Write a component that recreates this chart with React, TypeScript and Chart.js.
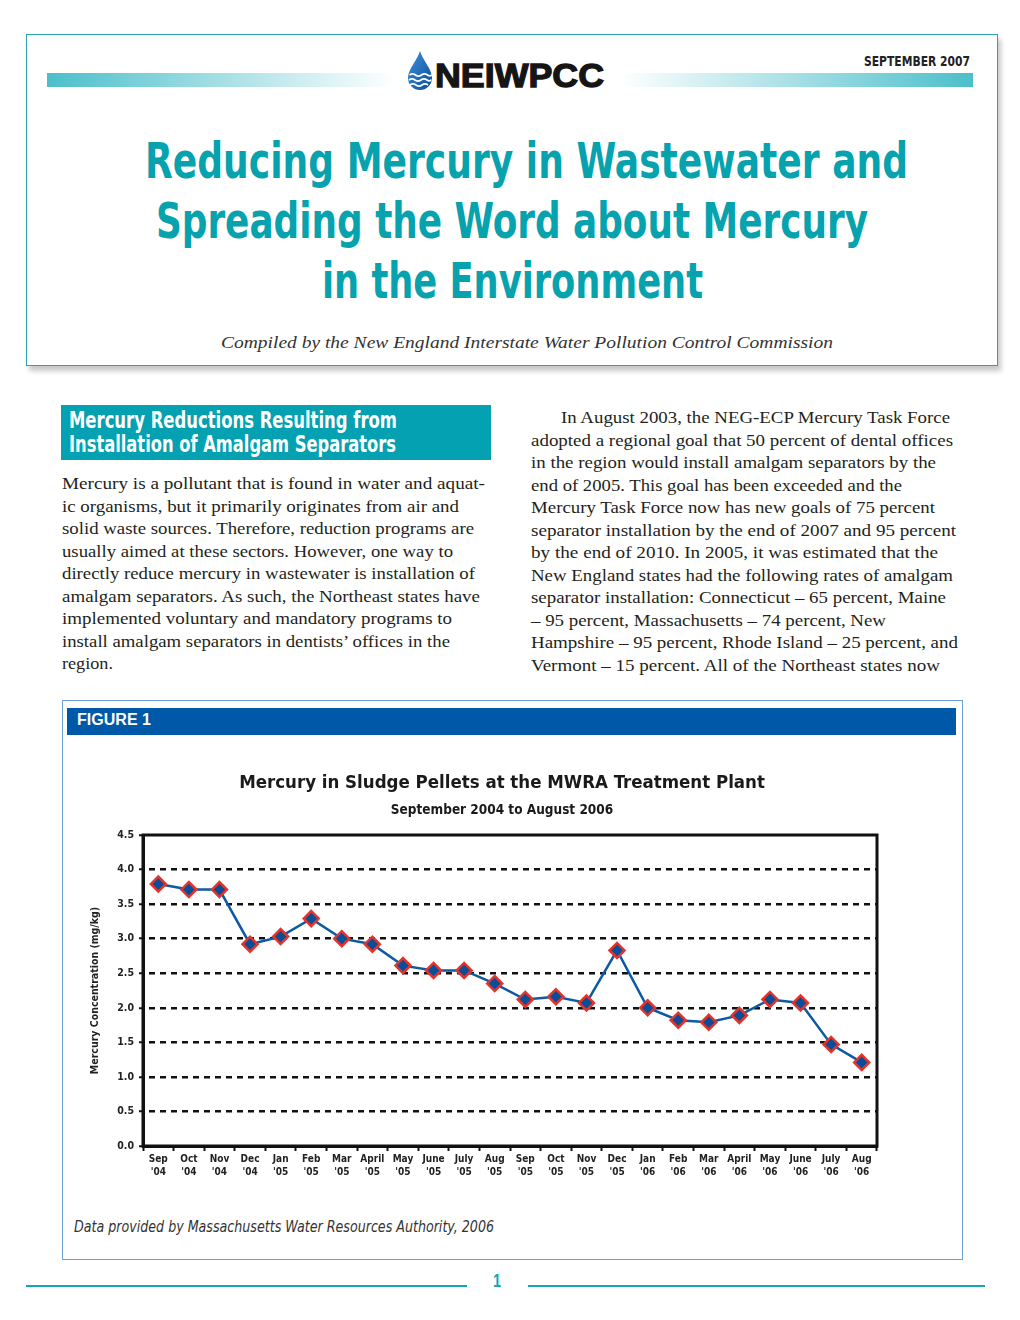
import React, { useEffect, useLayoutEffect, useRef } from 'react';
import { Chart, registerables } from 'chart.js';

Chart.register(...registerables);

// ---------- chart data ----------
const months = ['Sep', 'Oct', 'Nov', 'Dec', 'Jan', 'Feb', 'Mar', 'April', 'May', 'June', 'July', 'Aug',
  'Sep', 'Oct', 'Nov', 'Dec', 'Jan', 'Feb', 'Mar', 'April', 'May', 'June', 'July', 'Aug'];
const years = ["'04", "'04", "'04", "'04", "'05", "'05", "'05", "'05", "'05", "'05", "'05", "'05",
  "'05", "'05", "'05", "'05", "'06", "'06", "'06", "'06", "'06", "'06", "'06", "'06"];
const mercury = [3.79, 3.71, 3.71, 2.92, 3.03, 3.29, 3.0, 2.92, 2.61, 2.54, 2.54, 2.35,
  2.12, 2.16, 2.07, 2.83, 2.0, 1.82, 1.79, 1.89, 2.12, 2.07, 1.47, 1.21];
const yMin = 0;
const yMax = 4.5;
const yStep = 0.5;
const chartTitle = 'Mercury in Sludge Pellets at the MWRA Treatment Plant';
const chartSubtitle = 'September 2004 to August 2006';
const yAxisTitle = 'Mercury Concentration (mg/kg)';

// ---------- page text ----------
const titleLines = ['Reducing Mercury in Wastewater and', 'Spreading the Word about Mercury', 'in the Environment'];
const sideHeadLines = ['Mercury Reductions Resulting from', 'Installation of Amalgam Separators'];
const leftLines = [
  'Mercury is a pollutant that is found in water and aquat-',
  'ic organisms, but it primarily originates from air and',
  'solid waste sources. Therefore, reduction programs are',
  'usually aimed at these sectors. However, one way to',
  'directly reduce mercury in wastewater is installation of',
  'amalgam separators. As such, the Northeast states have',
  'implemented voluntary and mandatory programs to',
  'install amalgam separators in dentists\u2019 offices in the',
  'region.',
];
const leftRights = [485, 459, 474, 453, 475, 480, 452, 450, 113];
const rightLines = [
  'In August 2003, the NEG-ECP Mercury Task Force',
  'adopted a regional goal that 50 percent of dental offices',
  'in the region would install amalgam separators by the',
  'end of 2005. This goal has been exceeded and the',
  'Mercury Task Force now has new goals of 75 percent',
  'separator installation by the end of 2007 and 95 percent',
  'by the end of 2010. In 2005, it was estimated that the',
  'New England states had the following rates of amalgam',
  'separator installation: Connecticut \u2013 65 percent, Maine',
  '\u2013 95 percent, Massachusetts \u2013 74 percent, New',
  'Hampshire \u2013 95 percent, Rhode Island \u2013 25 percent, and',
  'Vermont \u2013 15 percent. All of the Northeast states now',
];
const rightRights = [950, 953, 936, 902, 935, 956, 938, 953, 946, 886, 958, 940];

const COND = '"Liberation Sans Narrow", "DejaVu Sans Condensed", "Arial Narrow", "Liberation Sans", Arial, sans-serif';
const SANS = '"Liberation Sans", Arial, Helvetica, sans-serif';
const SERIF = '"Liberation Serif", "Times New Roman", serif';
const TEAL = '#06a2ae';
const INK = '#231f20';

type FitProps = {
  text: string; left: number; cy: number; size: number; width: number;
  family: string; weight?: number | string; italic?: boolean; color: string; stroke?: string;
};

function Fit({ text, left, cy, size, width, family, weight = 'normal', italic = false, color, stroke }: FitProps) {
  const ref = useRef<HTMLSpanElement>(null);
  useLayoutEffect(() => {
    const el = ref.current;
    if (!el) return;
    el.style.transform = 'none';
    const w = el.getBoundingClientRect().width;
    if (w > 0) el.style.transform = `scaleX(${width / w})`;
  }, [text, width, size, family]);
  const lh = Math.round(size * 1.2);
  return (
    <span
      ref={ref}
      style={{
        position: 'absolute', left, top: cy - lh / 2, fontSize: size, lineHeight: lh + 'px',
        fontFamily: family, fontWeight: weight as any, fontStyle: italic ? 'italic' : 'normal',
        color, whiteSpace: 'nowrap', transformOrigin: '0 50%', display: 'inline-block',
        WebkitTextStroke: stroke,
      }}
    >
      {text}
    </span>
  );
}

const framePlugin = {
  id: 'frame',
  beforeDatasetsDraw(chart: any) {
    const { ctx, chartArea: a } = chart;
    ctx.save();
    ctx.strokeStyle = '#111';
    ctx.lineWidth = 3;
    ctx.strokeRect(a.left, a.top, a.right - a.left, a.bottom - a.top);
    ctx.restore();
  },
};

function MercuryChart() {
  const ref = useRef<HTMLCanvasElement>(null);
  useEffect(() => {
    if (!ref.current) return;
    const labels = months.map((m, i) => [m, years[i]]);
    const chart = new Chart(ref.current, {
      type: 'line',
      data: {
        labels,
        datasets: [{
          data: mercury,
          borderColor: '#0c5aa4',
          borderWidth: 2.5,
          pointStyle: 'rectRot',
          pointRadius: 7.5,
          pointBackgroundColor: '#0b4d96',
          pointBorderColor: '#e6332a',
          pointBorderWidth: 2.5,
          tension: 0,
          fill: false,
          clip: false,
        } as any],
      },
      options: {
        responsive: false,
        animation: false,
        layout: { padding: { left: 0, right: 0, top: 0, bottom: 6 } },
        plugins: {
          legend: { display: false },
          tooltip: { enabled: false },
          title: {
            display: true, text: chartTitle, color: '#1a1a1a',
            font: { family: COND, size: 18.5, weight: 'bold', lineHeight: 1.2 },
            padding: { top: 5.9, bottom: 0 },
          },
          subtitle: {
            display: true, text: chartSubtitle, color: '#1a1a1a',
            font: { family: COND, size: 13.5, weight: 'bold', lineHeight: 1.2 },
            padding: { top: 7.8, bottom: 16.9 },
          },
        },
        scales: {
          x: {
            type: 'category',
            offset: true,
            grid: {
              display: true, drawOnChartArea: false, drawTicks: true, offset: true,
              tickLength: 5, tickColor: '#111', tickWidth: 2,
            },
            border: { display: true, color: '#111', width: 3 },
            ticks: {
              color: '#222', autoSkip: false, maxRotation: 0, minRotation: 0, padding: 2,
              font: { family: COND, size: 10, weight: 'bold', lineHeight: 1.3 },
            },
            afterFit: (s: any) => { s.height = 34; },
          },
          y: {
            min: yMin, max: yMax,
            ticks: {
              stepSize: yStep, color: '#222', padding: 5,
              font: { family: COND, size: 10.5, weight: 'bold' },
              callback: (v: any) => Number(v).toFixed(1),
            },
            grid: {
              color: (c: any) => (c.tick && (c.tick.value === yMin || c.tick.value === yMax)) ? 'rgba(0,0,0,0)' : '#111',
              lineWidth: 2.5, drawTicks: true, tickLength: 4, tickColor: '#111', tickWidth: 2,
            },
            border: { display: true, color: '#111', width: 3, dash: [6, 5], dashOffset: -4 },
            title: {
              display: true, text: yAxisTitle, color: '#222',
              font: { family: COND, size: 10.5, weight: 'bold', lineHeight: 1.2 },
              padding: { top: 18.7, bottom: 0 },
            },
            afterFit: (s: any) => { s.width = 73; },
          },
          y2: {
            position: 'right', min: yMin, max: yMax, display: true,
            grid: { display: false, drawTicks: false },
            border: { display: false },
            ticks: { display: false },
            afterFit: (s: any) => { s.width = 57; },
          },
        },
      } as any,
      plugins: [framePlugin],
    });
    return () => chart.destroy();
  }, []);
  return <canvas ref={ref} width={864} height={420} style={{ position: 'absolute', left: 70, top: 766, width: 864, height: 420 }} />;
}

function Drop() {
  return (
    <svg style={{ position: 'absolute', left: 406, top: 50 }} width={28} height={42} viewBox="0 0 28 42">
      <defs>
        <linearGradient id="dropg" x1="0" y1="0" x2="1" y2="1">
          <stop offset="0" stopColor="#3f93da" />
          <stop offset="1" stopColor="#0a4c9c" />
        </linearGradient>
      </defs>
      <path d="M14 1 C 12 9, 2 19, 2 28 A 12 12 0 0 0 26 28 C 26 19, 16 9, 14 1 Z" fill="url(#dropg)" />
      <path d="M3.5 25 q3 -2.2 6 0 t6 0 t6 0 t4 -0.5" stroke="#fff" strokeWidth="1.7" fill="none" />
      <path d="M3 30 q3 -2.2 6 0 t6 0 t6 0 t4 -0.5" stroke="#fff" strokeWidth="1.7" fill="none" />
      <path d="M4 35 q3 -2.2 6 0 t6 0 t6 0" stroke="#fff" strokeWidth="1.7" fill="none" />
    </svg>
  );
}

export default function App() {
  return (
    <div style={{ position: 'absolute', left: 0, top: 0, width: 1020, height: 1320, background: '#fff', overflow: 'hidden' }}>
      {/* header box */}
      <div style={{
        position: 'absolute', left: 26, top: 34, width: 970, height: 330, border: '1px solid #2aa3b3',
        boxShadow: '3px 5px 5px rgba(0,0,0,0.22)', background: '#fff',
      }} />
      <div style={{ position: 'absolute', left: 47, top: 73, width: 348, height: 14, background: 'linear-gradient(to right, #4bbfca, rgba(255,255,255,1))' }} />
      <div style={{ position: 'absolute', left: 620, top: 73, width: 353, height: 14, background: 'linear-gradient(to right, rgba(255,255,255,1), #4bbfca)' }} />
      <Drop />
      <Fit text="NEIWPCC" left={435} cy={75} size={34} width={169} family={SANS} weight={900} color="#151515" stroke="1.3px #151515" />
      <Fit text="SEPTEMBER 2007" left={864} cy={61} size={14} width={106} family={COND} weight="bold" color="#222" />
      {titleLines.map((t, i) => (
        <Fit key={t} text={t} left={[145, 156, 322][i]} cy={161 + i * 60} size={50}
          width={[763, 712, 381][i]} family={COND} weight="bold" color={TEAL} />
      ))}
      <Fit text="Compiled by the New England Interstate Water Pollution Control Commission"
        left={221} cy={342} size={17.5} width={612} family={SERIF} italic color="#333" />

      {/* left column */}
      <div style={{ position: 'absolute', left: 61, top: 405, width: 430, height: 55, background: '#03a1b1' }} />
      {sideHeadLines.map((t, i) => (
        <Fit key={t} text={t} left={69} cy={420 + i * 24} size={23} width={[328, 327][i]}
          family={COND} weight="bold" color="#fff" />
      ))}
      {leftLines.map((t, i) => (
        <Fit key={i} text={t} left={62} cy={484 + i * 22.5} size={17} width={leftRights[i] - 62}
          family={SERIF} color={INK} />
      ))}

      {/* right column */}
      {rightLines.map((t, i) => {
        const l = i === 0 ? 561 : 531;
        return <Fit key={i} text={t} left={l} cy={418 + i * 22.5} size={17} width={rightRights[i] - l}
          family={SERIF} color={INK} />;
      })}

      {/* figure */}
      <div style={{ position: 'absolute', left: 62, top: 700, width: 899, height: 558, border: '1.5px solid #6c9fd6' }} />
      <div style={{ position: 'absolute', left: 67, top: 708, width: 889, height: 27, background: '#0059a8' }} />
      <Fit text="FIGURE 1" left={77} cy={719} size={16} width={74} family={SANS} weight="bold" color="#fff" />
      <MercuryChart />
      <Fit text="Data provided by Massachusetts Water Resources Authority, 2006" left={74} cy={1226} size={16}
        width={420} family={COND} italic color="#333" />

      {/* footer */}
      <div style={{ position: 'absolute', left: 26, top: 1285, width: 441, height: 2, background: '#17a5b4' }} />
      <div style={{ position: 'absolute', left: 528, top: 1285, width: 457, height: 2, background: '#17a5b4' }} />
      <Fit text="1" left={493} cy={1281} size={18} width={8} family={SANS} weight="bold" color="#17a5b4" />
    </div>
  );
}
